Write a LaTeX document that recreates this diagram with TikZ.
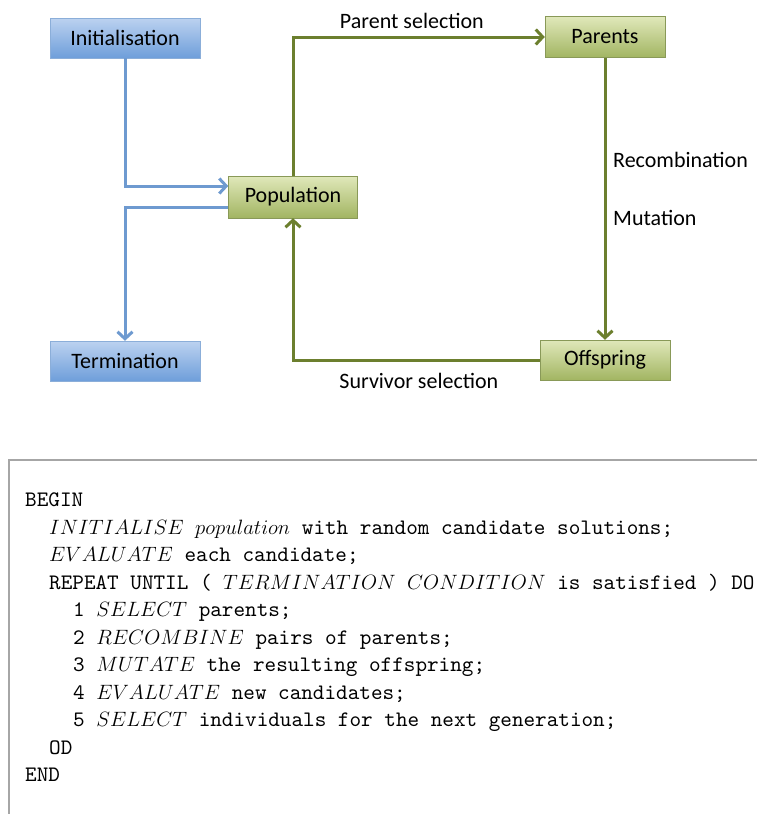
\documentclass[tikz,border=0pt]{standalone}
\usepackage{fontspec}
\setmainfont{Carlito}
\setmonofont[Extension=.otf]{lmmono10-regular}
\usepackage{tikz}
\usetikzlibrary{shapes,arrows.meta}
\definecolor{bluetop}{HTML}{BCD2F0}
\definecolor{bluebot}{HTML}{6E9EDA}
\definecolor{blueline}{HTML}{6E9AD0}
\definecolor{greentop}{HTML}{E0E8BA}
\definecolor{greenbot}{HTML}{A2B562}
\definecolor{greenline}{HTML}{6C7F2E}
\tikzstyle{bluebox} = [draw=blueline!80, thin, rectangle, top color=bluetop, bottom color=bluebot, minimum width=150pt, minimum height=40pt, font=\fontsize{22}{25}\selectfont]
\tikzstyle{greenbox} = [draw=greenline!80, thin, rectangle, top color=greentop, bottom color=greenbot, minimum height=41pt, font=\fontsize{22}{25}\selectfont]
\tikzstyle{blueflow} = [draw=blueline, line width=3pt, -{Straight Barb[length=7pt,width=15pt,line width=3pt]}]
\tikzstyle{greenflow} = [draw=greenline, line width=3pt, -{Straight Barb[length=7pt,width=15pt,line width=3pt]}]
\tikzstyle{steplabel} = [font=\fontsize{22}{25}\selectfont, inner sep=2pt]

\begin{document}
\begin{tikzpicture}[x=1pt, y=-1pt]
\useasboundingbox (0,0) rectangle (757,814);

% boxes of the cycle
\node [bluebox] (init) at (125,38) {Initialisation};
\node [bluebox] (term) at (125,361) {Termination};
\node [greenbox, minimum width=129pt, minimum height=42pt] (pop) at (293,197) {Population};
\node [greenbox, minimum width=120pt] (par) at (605,37) {Parents};
\node [greenbox, minimum width=130pt, minimum height=40pt] (off) at (605,360) {Offspring};

% blue connectors
\draw [blueflow] (init.south) |- ([yshift=11pt]pop.west);
\draw [blueflow] ([yshift=-10pt]pop.west) -| (term.north);

% green loop
\draw [greenflow] (pop.north) |- (par.west)
    node [steplabel, pos=0.736, above, yshift=5pt] {Parent selection};
\draw [greenflow] (par.south) -- (off.north);
\draw [greenflow] (off.west) -| (pop.south)
    node [steplabel, pos=0.245, below, yshift=-10pt] {Survivor selection};
\node [steplabel, anchor=west] (recomb) at (611,160) {Recombination};
\node [steplabel, anchor=west] (mut) at (611,218) {Mutation};

% pseudocode frame
\draw [gray!70, line width=1.5pt] (9,814) -- (9,460) -- (757,460);
\node [anchor=north west, align=left, inner sep=0pt,
       font=\ttfamily\fontsize{22.1}{27.5}\selectfont] (code) at (25,493) {%
BEGIN\\
\hspace*{24pt}$INITIALISE$ $population$ with random candidate solutions;\\
\hspace*{24pt}$EVALUATE$ each candidate;\\
\hspace*{24pt}REPEAT UNTIL ( $TERMINATION\ CONDITION$ is satisfied ) DO\\
\hspace*{48pt}1 $SELECT$ parents;\\
\hspace*{48pt}2 $RECOMBINE$ pairs of parents;\\
\hspace*{48pt}3 $MUTATE$ the resulting offspring;\\
\hspace*{48pt}4 $EVALUATE$ new candidates;\\
\hspace*{48pt}5 $SELECT$ individuals for the next generation;\\
\hspace*{24pt}OD\\
END};
\end{tikzpicture}
\end{document}
